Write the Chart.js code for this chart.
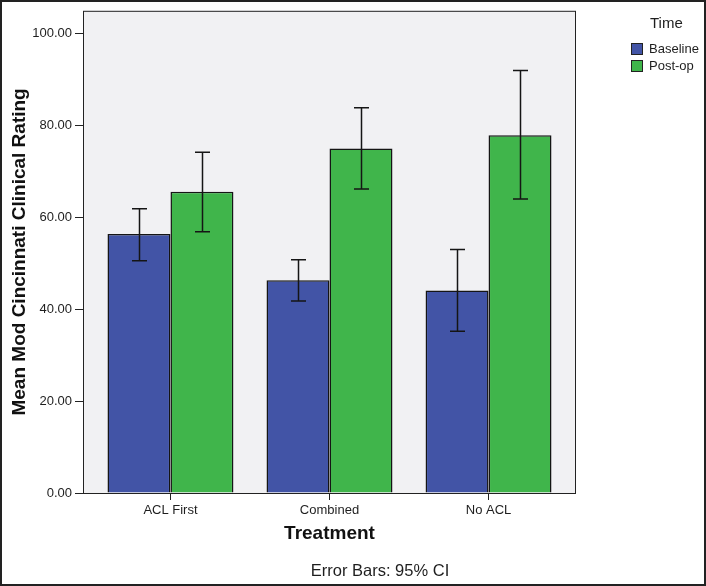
<!DOCTYPE html>
<html>
<head>
<meta charset="utf-8">
<script src="https://cdn.jsdelivr.net/npm/chart.js@4.4.1/dist/chart.umd.min.js"></script>
<style>
    html, body { margin: 0; padding: 0; background: #fff; }
    #wrap { width: 706px; height: 586px; }
</style>
</head>
<body>
<div id="wrap"><canvas id="chart" width="706" height="586"></canvas></div>
<script>
const categories = ['ACL First', 'Combined', 'No ACL']
const seriesNames = ['Baseline', 'Post-op']
const baselineMean = [56.4, 46.3, 44.1]
const baselineLow = [50.6, 41.8, 35.2]
const baselineHigh = [61.9, 50.8, 53.0]
const postopMean = [65.6, 75.0, 77.9]
const postopLow = [56.9, 66.2, 64.0]
const postopHigh = [74.2, 83.9, 92.0]
const yTicks = [0, 20, 40, 60, 80, 100]

const lows = [baselineLow, postopLow]
const highs = [baselineHigh, postopHigh]
const colors = ['#4254a6', '#40b54b']
const textColor = '#1e1e1e'
const font = 'Liberation Sans, Arial, sans-serif'

const plotFrame = {
    id: 'plotFrame',
    beforeDraw(chart) {
        const { ctx, chartArea: a } = chart
        ctx.save()
        ctx.fillStyle = '#fff'
        ctx.fillRect(0, 0, chart.width, chart.height)
        ctx.fillStyle = '#f1f1f3'
        ctx.fillRect(a.left, a.top, a.right - a.left, a.bottom - a.top)
        ctx.restore()
    },
    afterDatasetsDraw(chart) {
        const { ctx, chartArea: a } = chart
        ctx.save()
        ctx.strokeStyle = '#222'
        ctx.lineWidth = 1
        ctx.strokeRect(a.left + 0.5, a.top + 0.5, a.right - a.left - 1, a.bottom - a.top)
        // error bars
        ctx.lineWidth = 1.5
        ctx.strokeStyle = '#151515'
        const y = chart.scales.y
        chart.data.datasets.forEach((ds, d) => {
            chart.getDatasetMeta(d).data.forEach((bar, i) => {
                const top = y.getPixelForValue(highs[d][i])
                const bot = y.getPixelForValue(lows[d][i])
                const x = Math.round(bar.x) + 0.5
                ctx.beginPath()
                ctx.moveTo(x, top); ctx.lineTo(x, bot)
                ctx.moveTo(x - 7.5, top); ctx.lineTo(x + 7.5, top)
                ctx.moveTo(x - 7.5, bot); ctx.lineTo(x + 7.5, bot)
                ctx.stroke()
            })
        })
        ctx.restore()
    },
    afterDraw(chart) {
        const { ctx } = chart
        ctx.save()
        // legend
        ctx.fillStyle = textColor
        ctx.textBaseline = 'middle'
        ctx.font = '15px ' + font
        ctx.fillText('Time', 650, 24)
        ctx.font = '13px ' + font
        chart.data.datasets.forEach((ds, d) => {
            const by = 43 + d * 17
            ctx.fillStyle = ds.backgroundColor
            ctx.fillRect(631, by, 11, 11)
            ctx.strokeStyle = '#222'
            ctx.lineWidth = 1
            ctx.strokeRect(631.5, by + 0.5, 11, 11)
            ctx.fillStyle = textColor
            ctx.fillText(ds.label, 649, by + 6)
        })
        // footnote
        ctx.font = '16.5px ' + font
        ctx.textAlign = 'center'
        ctx.fillText('Error Bars: 95% CI', 380, 571)
        // outer frame
        ctx.strokeStyle = '#222'
        ctx.lineWidth = 2
        ctx.strokeRect(1, 1, chart.width - 2, chart.height - 2)
        ctx.restore()
    }
}

new Chart(document.getElementById('chart'), {
    type: 'bar',
    data: {
        datasets: [
            {
                label: seriesNames[0],
                data: categories.map((c, i) => ({ x: i, y: baselineMean[i] })),
                backgroundColor: colors[0],
                borderColor: '#151515',
                borderWidth: 1.5
            },
            {
                label: seriesNames[1],
                data: categories.map((c, i) => ({ x: i, y: postopMean[i] })),
                backgroundColor: colors[1],
                borderColor: '#151515',
                borderWidth: 1.5
            }
        ]
    },
    options: {
        responsive: false,
        animation: false,
        categoryPercentage: 0.792,
        barPercentage: 1,
        layout: { padding: { left: 0, right: 130, top: 8, bottom: 0 } },
        plugins: { legend: { display: false }, tooltip: { enabled: false } },
        scales: {
            x: {
                type: 'linear',
                offset: false,
                min: -0.55,
                max: 2.55,
                afterBuildTicks: (scale) => { scale.ticks = categories.map((c, i) => ({ value: i })) },
                afterFit: (scale) => { scale.height = 93 },
                grid: { offset: false, drawOnChartArea: false, drawTicks: true, tickLength: 7, color: '#222' },
                border: { display: false },
                ticks: {
                    autoSkip: false, maxRotation: 0, padding: 3,
                    color: textColor, font: { family: font, size: 13 },
                    callback: (v) => categories[v]
                },
                title: {
                    display: true, text: 'Treatment', color: '#111',
                    font: { family: font, size: 19, weight: 'bold' },
                    padding: { top: 2, bottom: 41 }
                }
            },
            y: {
                min: 0,
                max: 105,
                afterBuildTicks: (scale) => { scale.ticks = yTicks.map(v => ({ value: v })) },
                afterFit: (scale) => { scale.width = 83 },
                grid: { drawOnChartArea: false, drawTicks: true, tickLength: 8, color: '#222' },
                border: { display: false },
                ticks: {
                    padding: 3, color: textColor, font: { family: font, size: 13 },
                    callback: (v) => v.toFixed(2)
                },
                title: {
                    display: true, text: 'Mean Mod Cincinnati Clinical Rating', color: '#111',
                    font: { family: font, size: 19, weight: 'bold' },
                    padding: { top: 8, bottom: 0 }
                }
            }
        }
    },
    plugins: [plotFrame]
})
</script>
</body>
</html>
